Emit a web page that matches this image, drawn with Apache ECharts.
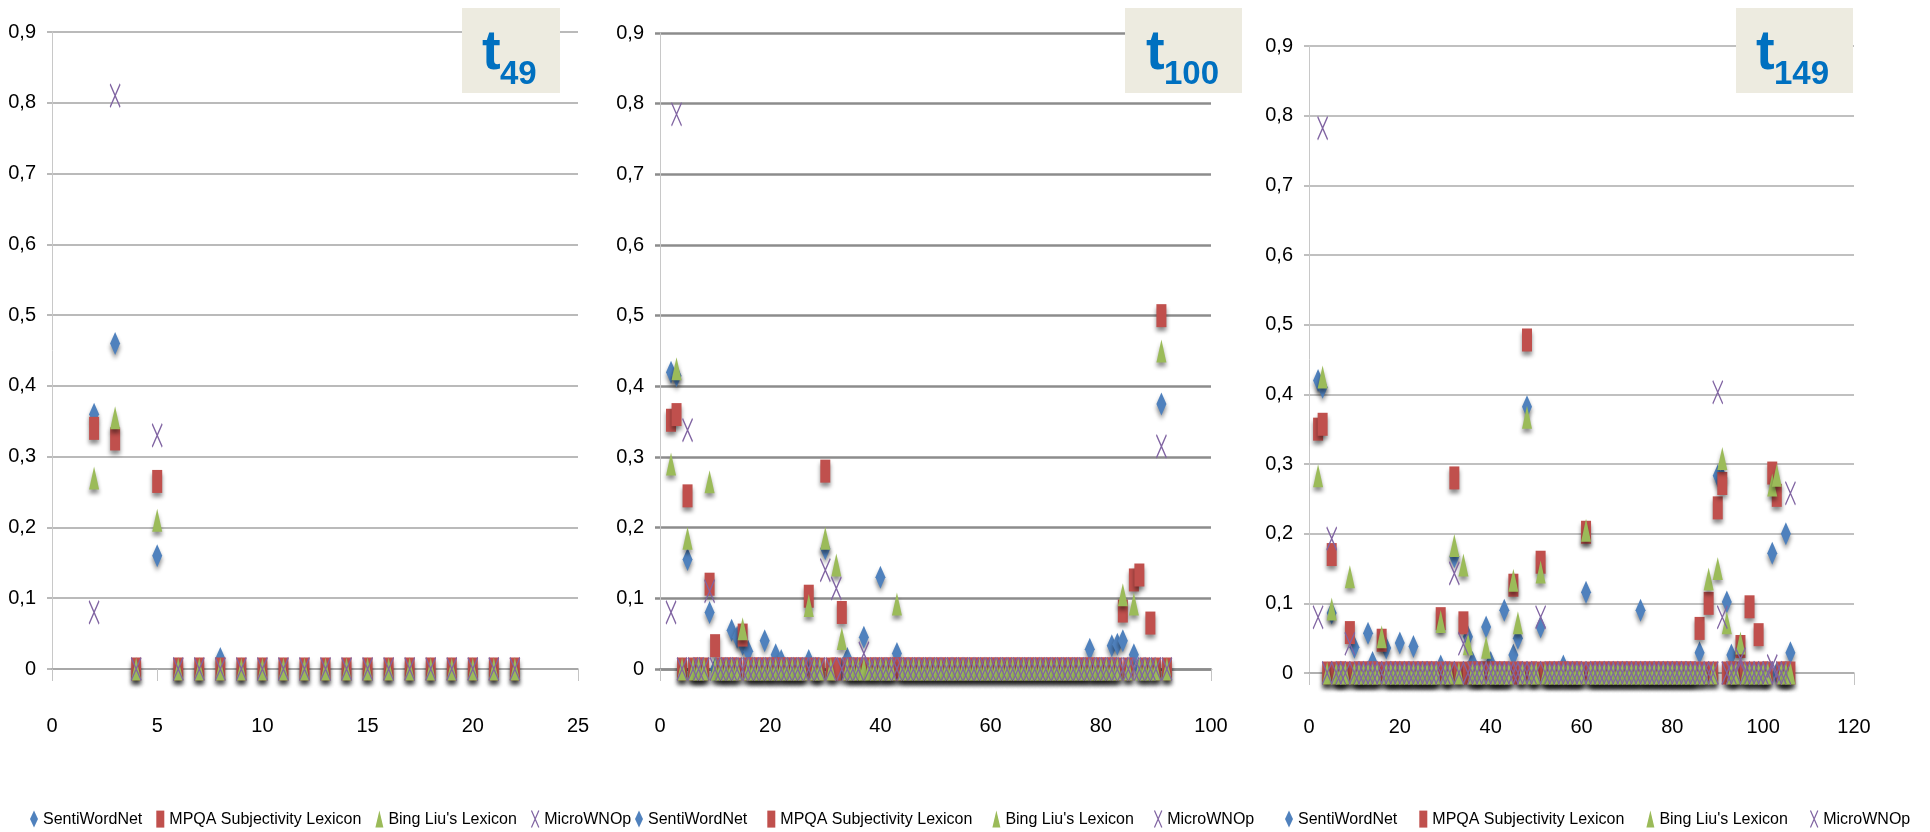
<!DOCTYPE html>
<html lang="en">
<head>
    <meta charset="UTF-8">
    <title>t49 / t100 / t149</title>
    <script src="https://cdn.jsdelivr.net/npm/echarts@6/dist/echarts.min.js"></script>
    <style>
        html, body {margin: 0; padding: 0; background: #fff;}
    </style>
</head>
<body>
<div id="main" style="width: 1930px;height:832px;"></div>
<script type="text/javascript">
    // names of the four lexicons
    var names = ['SentiWordNet', 'MPQA Subjectivity Lexicon', "Bing Liu's Lexicon", 'MicroWNOp'];
    var panelTitles = ['49', '100', '149'];
    var yTicks = [0, 0.1, 0.2, 0.3, 0.4, 0.5, 0.6, 0.7, 0.8, 0.9];
    var xMax = [25, 100, 120];
    var xStep = [5, 20, 20];

    // values per term, index 0 = x 1 (null = no point)
    // t49
    var p1Senti = [null, 0.36, 0.46, 0, 0.16, 0, 0, 0.015, 0, 0, 0, 0, 0, 0, 0, 0, 0, 0, 0, 0, 0, 0];
    var p1Mpqa  = [null, 0.34, 0.325, 0, 0.265, 0, 0, 0, 0, 0, 0, 0, 0, 0, 0, 0, 0, 0, 0, 0, 0, 0];
    var p1Bing  = [null, 0.27, 0.355, 0, 0.21, 0, 0, 0, 0, 0, 0, 0, 0, 0, 0, 0, 0, 0, 0, 0, 0, 0];
    var p1Micro = [null, 0.08, 0.81, 0, 0.33, 0, 0, 0, 0, 0, 0, 0, 0, 0, 0, 0, 0, 0, 0, 0, 0, 0];

    // t100
    var p2Senti = [null, 0.42, 0.415, 0, 0.155, 0, 0, 0, 0.08, 0,
        0, 0, 0.055, 0.045, 0.035, 0.025, 0, 0, 0.04, 0,
        0.02, 0.012, 0, 0, 0, 0, 0.012, 0, 0, 0.17,
        0, 0, 0, 0.015, 0, 0, 0.045, 0, 0, 0.13,
        0, 0, 0.022, 0, 0, 0, 0, 0, 0, 0,
        0, 0, 0, 0, 0, 0, 0, 0, 0, 0,
        0, 0, 0, 0, 0, 0, 0, 0, 0, 0,
        0, 0, 0, 0, 0, 0, 0, 0.028, 0, 0,
        0, 0.033, 0.035, 0.04, 0, 0.02, 0, 0, 0, 0,
        0.375, 0];
    var p2Mpqa = [null, 0.352, 0.36, 0, 0.245, 0, 0, 0, 0.12, 0.033,
        0, 0, 0, 0, 0.048, 0, 0, 0, 0, 0,
        0, 0, 0, 0, 0, 0, 0.103, 0, 0, 0.28,
        0, 0, 0.08, 0, 0, 0, 0, 0, 0, 0,
        0, 0, 0, 0, 0, 0, 0, 0, 0, 0,
        0, 0, 0, 0, 0, 0, 0, 0, 0, 0,
        0, 0, 0, 0, 0, 0, 0, 0, 0, 0,
        0, 0, 0, 0, 0, 0, 0, 0, 0, 0,
        0, 0, 0, 0.082, 0, 0.126, 0.133, 0, 0.065, 0,
        0.5, 0];
    var p2Bing = [null, 0.29, 0.425, 0, 0.185, 0, 0, 0, 0.265, 0,
        0, 0, 0, 0, 0.057, 0, 0, 0, 0, 0,
        0, 0, 0, 0, 0, 0, 0.09, 0, 0, 0.185,
        0, 0.147, 0.043, 0, 0, 0, 0, 0, 0, 0,
        0, 0, 0.092, 0, 0, 0, 0, 0, 0, 0,
        0, 0, 0, 0, 0, 0, 0, 0, 0, 0,
        0, 0, 0, 0, 0, 0, 0, 0, 0, 0,
        0, 0, 0, 0, 0, 0, 0, 0, 0, 0,
        0, 0, 0, 0.105, 0, 0.092, 0, 0, 0, 0,
        0.45, 0];
    var p2Micro = [null, 0.08, 0.785, 0, 0.338, 0, 0, 0, 0.11, 0,
        0, 0, 0, 0, 0, 0, 0, 0, 0, 0,
        0, 0, 0, 0, 0, 0, 0, 0, 0, 0.14,
        0, 0.114, 0, 0, 0, 0, 0.022, 0, 0, 0,
        0, 0, 0, 0, 0, 0, 0, 0, 0, 0,
        0, 0, 0, 0, 0, 0, 0, 0, 0, 0,
        0, 0, 0, 0, 0, 0, 0, 0, 0, 0,
        0, 0, 0, 0, 0, 0, 0, 0, 0, 0,
        0, 0, 0, 0, 0, 0, 0, 0, 0, 0,
        0.315, 0];

    // t149
    var p3Senti = [null, 0.42, 0.41, 0, 0.086, 0, 0, 0, 0, 0.037,
        0, 0, 0.057, 0.015, 0, 0, 0.036, 0, 0, 0.043,
        0, 0, 0.038, 0, 0, 0, 0, 0, 0.01, 0,
        0, 0.167, 0, 0, 0.052, 0.015, 0, 0, 0.066, 0.015,
        0, 0, 0.09, 0, 0.026, 0.05, 0, 0.382, 0, 0,
        0.066, 0, 0, 0, 0, 0.01, 0, 0, 0, 0,
        0.116, 0, 0, 0, 0, 0, 0, 0, 0, 0,
        0, 0, 0.09, 0, 0, 0, 0, 0, 0, 0,
        0, 0, 0, 0, 0, 0.029, 0, 0, 0, 0.283,
        0.28, 0.102, 0.026, 0, 0, 0, 0, 0, 0, 0,
        0, 0.172, 0, 0, 0.2, 0.029];
    var p3Mpqa = [null, 0.35, 0.357, 0, 0.17, 0, 0, 0, 0.058, 0,
        0, 0, 0, 0, 0, 0.047, 0, 0, 0, 0,
        0, 0, 0, 0, 0, 0, 0, 0, 0.078, 0,
        0, 0.28, 0, 0.072, 0, 0, 0, 0, 0, 0,
        0, 0, 0, 0, 0.126, 0, 0, 0.478, 0, 0,
        0.159, 0, 0, 0, 0, 0, 0, 0, 0, 0,
        0.202, 0, 0, 0, 0, 0, 0, 0, 0, 0,
        0, 0, 0, 0, 0, 0, 0, 0, 0, 0,
        0, 0, 0, 0, 0, 0.064, 0, 0.1, 0, 0.237,
        0.272, 0, 0, 0, 0.038, 0, 0.095, 0, 0.055, 0,
        0, 0.287, 0.255, 0, 0, 0];
    var p3Bing = [null, 0.283, 0.425, 0, 0.092, 0, 0, 0, 0.138, 0,
        0, 0, 0, 0, 0, 0.052, 0, 0, 0, 0,
        0, 0, 0, 0, 0, 0, 0, 0, 0.074, 0,
        0, 0.183, 0, 0.155, 0.042, 0, 0, 0, 0.037, 0,
        0, 0, 0, 0, 0.133, 0.072, 0, 0.367, 0, 0,
        0.145, 0, 0, 0, 0, 0, 0, 0, 0, 0,
        0.205, 0, 0, 0, 0, 0, 0, 0, 0, 0,
        0, 0, 0, 0, 0, 0, 0, 0, 0, 0,
        0, 0, 0, 0, 0, 0, 0, 0.135, 0, 0.15,
        0.308, 0.072, 0, 0, 0.043, 0, 0, 0, 0, 0,
        0, 0.27, 0.284, 0, 0, 0];
    var p3Micro = [null, 0.08, 0.782, 0, 0.193, 0, 0, 0, 0.042, 0,
        0, 0, 0, 0, 0, 0, 0, 0, 0, 0,
        0, 0, 0, 0, 0, 0, 0, 0, 0, 0,
        0, 0.143, 0, 0.042, 0, 0, 0, 0, 0, 0,
        0, 0, 0, 0, 0, 0, 0, 0, 0, 0,
        0.08, 0, 0, 0, 0, 0, 0, 0, 0, 0,
        0, 0, 0, 0, 0, 0, 0, 0, 0, 0,
        0, 0, 0, 0, 0, 0, 0, 0, 0, 0,
        0, 0, 0, 0, 0, 0, 0, 0, 0, 0.403,
        0.08, 0, 0, 0, 0.02, 0, 0, 0, 0, 0,
        0, 0.01, 0, 0, 0, 0.258];

    var panels = [
        [p1Senti, p1Mpqa, p1Bing, p1Micro],
        [p2Senti, p2Mpqa, p2Bing, p2Micro],
        [p3Senti, p3Mpqa, p3Bing, p3Micro]
    ];

    var colors = ['#4F81BD', '#C0504D', '#9BBB59', '#8064A2'];
    var crossPath = 'path://M0,0L10,23M10,0L0,23';
    var symbols = ['diamond', 'rect', 'triangle', crossPath];
    var font = "'Liberation Sans', Arial, sans-serif";

    // plot areas (px)
    var grids = [
        {left: 52, top: 32, width: 526, height: 637},
        {left: 660, top: 33, width: 551, height: 636},
        {left: 1309, top: 46, width: 545, height: 627}
    ];
    var gridLineColor = ['#A3A3A3', '#8C8C8C', '#ABABAB'];
    var gridLineWidth = [1.5, 2.5, 1.5];
    var xLabelMargin = [47, 47, 44];
    var legendLeft = [25, 630, 1280];
    var legendGap = [14, 20, 22];
    // title boxes: box x, box width, x of the "t"
    var boxes = [[462, 98, 482], [1125, 117, 1146], [1736, 117, 1756]];

    function toPoints(arr) {
        var out = [];
        for (var i = 0; i < arr.length; i++) {
            if (arr[i] !== null) out.push([i + 1, arr[i]]);
        }
        return out;
    }

    var myChart = echarts.init(document.getElementById('main'));

    var xAxes = [], yAxes = [], series = [], legends = [], graphic = [];
    for (var p = 0; p < 3; p++) {
        xAxes.push({
            type: 'value',
            gridIndex: p,
            min: 0,
            max: xMax[p],
            interval: xStep[p],
            axisLine: {show: true, lineStyle: {color: gridLineColor[p], width: gridLineWidth[p]}},
            axisTick: {show: true, length: 12, lineStyle: {color: '#C4C4C4'}},
            splitLine: {show: false},
            axisLabel: {margin: xLabelMargin[p], fontSize: 20, color: '#000', fontFamily: font}
        });
        yAxes.push({
            type: 'value',
            gridIndex: p,
            min: yTicks[0],
            max: yTicks[yTicks.length - 1],
            interval: 0.1,
            axisLine: {show: true, lineStyle: {color: '#C8C8C8', width: 1}},
            axisTick: {show: true, length: 5, lineStyle: {color: gridLineColor[p], width: gridLineWidth[p]}},
            splitLine: {show: true, lineStyle: {color: gridLineColor[p], width: gridLineWidth[p]}},
            axisLabel: {
                margin: 16, fontSize: 20, color: '#000', fontFamily: font,
                formatter: function (v) {
                    return String(Math.round(v * 10) / 10).replace('.', ',');
                }
            }
        });
        for (var s = 0; s < 4; s++) {
            var isCross = s === 3;
            series.push({
                name: names[s],
                type: 'scatter',
                xAxisIndex: p,
                yAxisIndex: p,
                symbol: symbols[s],
                symbolSize: [10, 23],
                data: toPoints(panels[p][s]),
                itemStyle: isCross ? {
                    color: 'rgba(0,0,0,0)',
                    borderColor: colors[s],
                    borderWidth: 1.6,
                    opacity: 1
                } : {
                    color: colors[s],
                    opacity: 1,
                    shadowBlur: 4,
                    shadowOffsetY: 4,
                    shadowColor: 'rgba(0,0,0,0.45)'
                },
                emphasis: {disabled: true}
            });
        }
        legends.push({
            left: legendLeft[p],
            top: 805,
            orient: 'horizontal',
            itemGap: legendGap[p],
            itemWidth: 8,
            itemHeight: 17,
            textStyle: {fontSize: 16, color: '#000', fontFamily: font},
            data: names.map(function (n, i) {
                return {
                    name: n,
                    icon: symbols[i],
                    itemStyle: i === 3 ? {color: 'rgba(0,0,0,0)', borderColor: colors[i], borderWidth: 1.2}
                        : {color: colors[i]}
                };
            })
        });
        // "t" label box
        graphic.push({
            type: 'rect',
            shape: {x: boxes[p][0], y: 8, width: boxes[p][1], height: 85},
            style: {fill: '#EDEBE0'},
            z: 100
        });
        graphic.push({
            type: 'text',
            style: {
                x: boxes[p][2], y: 26, text: 't',
                font: 'bold 56px "Liberation Sans", Arial, sans-serif',
                fill: '#0070C0', verticalAlign: 'top'
            },
            z: 101
        });
        graphic.push({
            type: 'text',
            style: {
                x: boxes[p][2] + 18, y: 58, text: panelTitles[p],
                font: 'bold 33px "Liberation Sans", Arial, sans-serif',
                fill: '#0070C0', verticalAlign: 'top'
            },
            z: 101
        });
    }

    var option = {
        animation: false,
        backgroundColor: '#fff',
        grid: grids,
        xAxis: xAxes,
        yAxis: yAxes,
        legend: legends,
        graphic: graphic,
        series: series
    };
    myChart.setOption(option);
</script>
</body>
</html>
